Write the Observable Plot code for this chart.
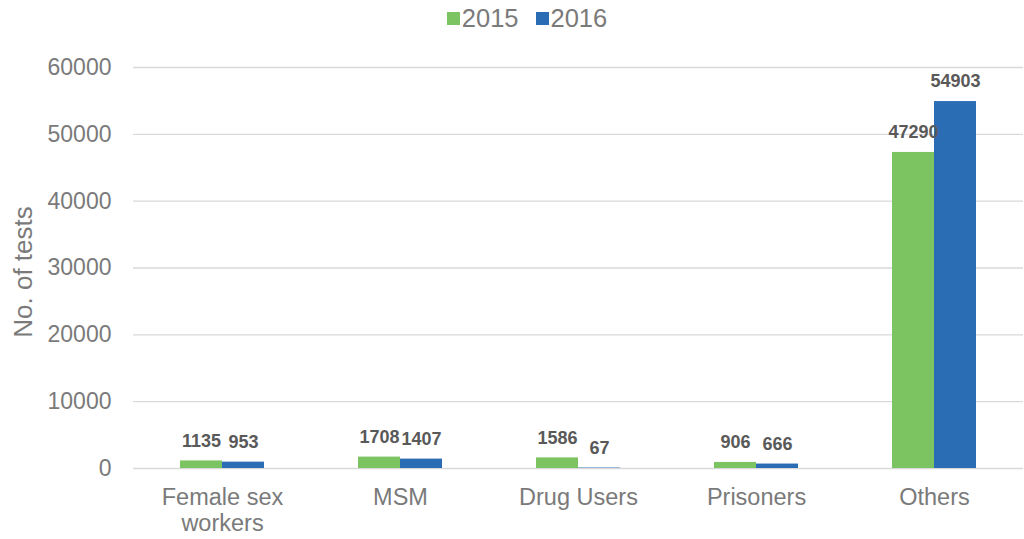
<!DOCTYPE html>
<html>
<head>
<meta charset="utf-8">
<script src="https://cdn.jsdelivr.net/npm/d3@7"></script>
<script src="https://cdn.jsdelivr.net/npm/@observablehq/plot@0.6"></script>
<style>
  html, body { margin: 0; padding: 0; background: #fff; }
  body { width: 1024px; height: 539px; overflow: hidden; font-family: "Liberation Sans", Arial, sans-serif; }
  #legend { height: 36px; display: flex; justify-content: center; align-items: center; gap: 17px; font-size: 25.5px; color: #7a7a7a; padding-left: 30px; box-sizing: border-box; }
  #legend .item { display: flex; align-items: center; }
  #legend .sw { width: 13px; height: 13px; margin-right: 2px; display: inline-block; }
  #chart svg { display: block; }
</style>
</head>
<body>
<div id="legend"></div>
<div id="chart"></div>
<script>
const categories = ["Female sex workers", "MSM", "Drug Users", "Prisoners", "Others"];
const tickLabels = ["Female sex\nworkers", "MSM", "Drug Users", "Prisoners", "Others"];
const years = ["2015", "2016"];
const values2015 = [1135, 1708, 1586, 906, 47290];
const values2016 = [953, 1407, 67, 666, 54903];
const colors = ["#7cc462", "#2a6db5"];
const yTicks = [0, 10000, 20000, 30000, 40000, 50000, 60000];

const data = [];
categories.forEach((c, i) => {
  data.push({category: c, year: years[0], value: values2015[i]});
  data.push({category: c, year: years[1], value: values2016[i]});
});

// legend
const legend = document.getElementById("legend");
years.forEach((y, i) => {
  const it = document.createElement("span");
  it.className = "item";
  const sw = document.createElement("span");
  sw.className = "sw";
  sw.style.background = colors[i];
  it.appendChild(sw);
  it.appendChild(document.createTextNode(y));
  legend.appendChild(it);
});

const tickMap = new Map(categories.map((c, i) => [c, tickLabels[i]]));

const chart = Plot.plot({
  width: 1024,
  height: 503,
  marginLeft: 132,
  marginRight: 0,
  marginTop: 31,
  marginBottom: 71,
  style: {fontFamily: "Liberation Sans, Arial, sans-serif", background: "#fff"},
  fx: {domain: categories, paddingInner: 0, paddingOuter: 0, label: null, axis: null},
  x: {domain: years, paddingInner: 0, paddingOuter: 1.08, axis: null},
  y: {domain: [0, 60000], label: null, axis: null},
  color: {domain: years, range: colors},
  marks: [
    Plot.ruleY(yTicks, {stroke: "#d9d9d9", strokeWidth: 1.3}),
    Plot.axisY({ticks: yTicks, tickSize: 0, tickPadding: 22, fontSize: 23, fill: "#7a7a7a", label: null, tickFormat: d => String(d)}),
    Plot.text(["No. of tests"], {facet: "super", frameAnchor: "left", textAnchor: "middle", dx: -110, dy: 4, rotate: -90, fontSize: 26, fill: "#7a7a7a"}),
    Plot.axisFx({tickSize: 0, tickPadding: 18, fontSize: 23.5, fill: "#7a7a7a", label: null, tickFormat: d => tickMap.get(d), lineHeight: 1.1, anchor: "bottom"}),
    Plot.barY(data, {fx: "category", x: "year", y: "value", fill: "year", insetLeft: 0, insetRight: 0}),
    Plot.text(data, {fx: "category", x: "year", y: "value", text: d => String(d.value), dy: -20, fontSize: 18, fontWeight: "bold", fill: "#595959"})
  ]
});
document.getElementById("chart").appendChild(chart);
</script>
</body>
</html>
